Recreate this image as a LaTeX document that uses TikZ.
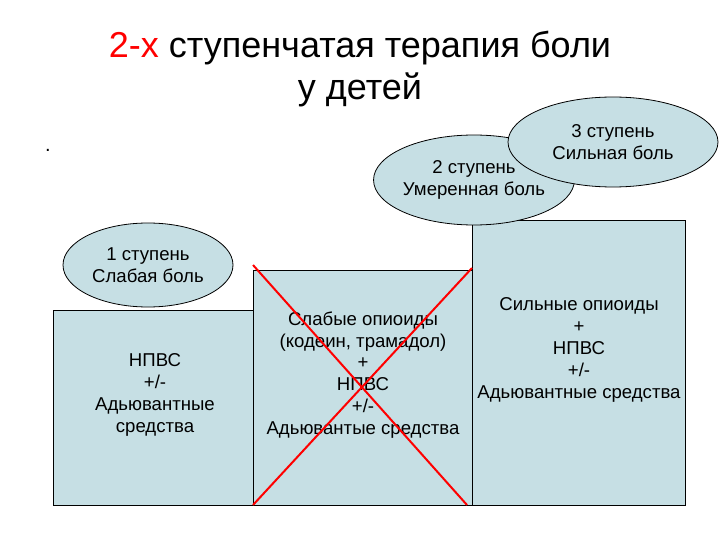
\documentclass[tikz,border=0pt]{standalone}
\usepackage{fontspec}
\setmainfont{Liberation Sans}
\usetikzlibrary{shapes.geometric}
\definecolor{boxfill}{HTML}{C6DFE4}
\begin{document}
\begin{tikzpicture}[x=1pt,y=-1pt,
  box/.style={draw=black,fill=boxfill,line width=0.8pt},
  ell/.style={draw=black,fill=boxfill,line width=0.8pt,ellipse,minimum width=#1},
  txt/.style={align=center,font=\fontsize{18.6}{21.8}\selectfont}]
\useasboundingbox (0,0) rectangle (720,540);
\node[font=\fontsize{36}{38}\selectfont] (t1) at (360,48) {\textcolor{red}{2-х} ступенчатая терапия боли};
\node[font=\fontsize{36}{38}\selectfont] (t2) at (360,90) {у детей};
\node[font=\fontsize{20}{20}\selectfont] (dot) at (48,150) {.};
\draw[box] (53,310) rectangle (253,505);
\draw[box] (253,270) rectangle (472,505);
\draw[box] (472,220) rectangle (685,505);
\node[txt] (b1) at (155,395) {НПВС\\+/-\\Адьювантные\\средства};
\node[txt] (b2) at (363,375) {Слабые опиоиды\\(кодеин, трамадол)\\+\\НПВС\\+/-\\Адьювантые средства};
\node[txt] (b3) at (579,350) {Сильные опиоиды\\+\\НПВС\\+/-\\Адьювантные средства};
\coordinate (xa) at (253,265); \coordinate (xb) at (467,505);
\coordinate (xc) at (472,268); \coordinate (xd) at (253,505);
\draw[red,line width=2pt] (xa) -- (xb);
\draw[red,line width=2pt] (xc) -- (xd);
\node[ell=170pt,minimum height=84pt,txt,inner sep=0pt] (e1) at (148,265) {1 ступень\\Слабая боль};
\node[ell=190pt,minimum height=90pt,txt,inner sep=0pt] (e2) at (474,180) {2 ступень\\Умеренная боль};
\node[ell=210pt,minimum height=90pt,txt,inner sep=0pt] (e3) at (613,142) {3 ступень\\Сильная боль};
\end{tikzpicture}
\end{document}
